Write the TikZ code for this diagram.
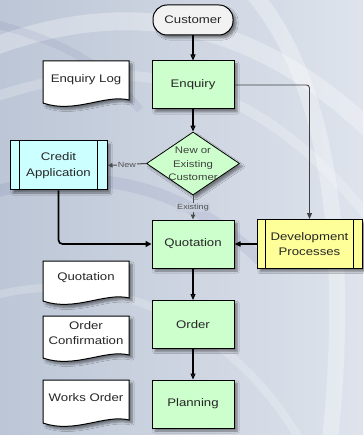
\documentclass[tikz,border=0pt]{standalone}
\usepackage{fontspec}
\setmainfont[FakeStretch=1.2]{Liberation Sans}
\usetikzlibrary{shapes.geometric,shadows.blur,arrows.meta}
\definecolor{bgA}{RGB}{188,198,214}
\definecolor{bgB}{RGB}{222,227,236}
\definecolor{bgmid}{RGB}{200,208,222}
\definecolor{procgreen}{RGB}{204,255,204}
\definecolor{subcyan}{RGB}{204,255,255}
\definecolor{subyellow}{RGB}{255,255,153}
\definecolor{termgrey}{RGB}{242,242,242}
\definecolor{labgrey}{RGB}{80,80,80}
\tikzset{
  shad/.style={blur shadow={shadow xshift=3pt,shadow yshift=-3pt,shadow blur steps=6,shadow opacity=45}},
  txt/.style={font=\fontsize{11}{15.5}\selectfont, align=center, text=black!85},
  procbox/.style={txt, draw, line width=1pt, fill=procgreen, minimum width=82pt, minimum height=48pt, inner sep=0pt, shad},
  subbox/.style={txt, draw, line width=1pt, inner sep=0pt, minimum height=49pt, shad},
  termbox/.style={txt, draw, line width=1pt, fill=termgrey, minimum width=80pt, minimum height=30pt, rounded corners=14pt, inner sep=0pt, shad},
  docshape/.style={draw, line width=1pt, fill=white, shad},
  doctext/.style={txt, inner sep=0pt},
  decision/.style={diamond, draw, line width=0.8pt, fill=procgreen, minimum width=93pt, minimum height=63pt, inner sep=0pt, shad},
  flow/.style={draw, line width=1.1pt, -{Triangle[length=6pt,width=5pt]}},
  thickflow/.style={draw, line width=1.7pt, rounded corners=4pt, -{Triangle[length=6pt,width=6pt]}},
  greyflow/.style={draw=black!70, line width=1pt, -{Triangle[length=5pt,width=4.5pt]}},
  smalllab/.style={font=\fontsize{7.5}{8}\selectfont, text=labgrey, fill=bgmid, inner sep=0.8pt},
}
\newcommand\docdraw[3]{%
  \path[docshape] (#1,#2) -- (#1+86,#2) -- (#1+86,#2+#3-6)
    .. controls (#1+62,#2+#3-12) and (#1+32,#2+#3+8) .. (#1,#2+#3-3) -- cycle;}
\begin{document}
\begin{tikzpicture}[x=1pt,y=-1pt]
\useasboundingbox (0,0) rectangle (363,435);
% background
\shade[left color=bgA, right color=bgB] (0,0) rectangle (363,435);
\begin{scope}
\clip (0,0) rectangle (363,435);
\draw[white, opacity=0.3, line width=18pt] (-40,60) .. controls (120,-10) and (260,10) .. (400,160);
\draw[white, opacity=0.22, line width=10pt] (-40,110) .. controls (130,40) and (270,70) .. (400,260);
\draw[white, opacity=0.3, line width=16pt] (250,-10) .. controls (330,80) and (350,250) .. (330,440);
\draw[white, opacity=0.2, line width=8pt] (-20,300) .. controls (100,260) and (230,320) .. (300,440);
\draw[black!60!blue, opacity=0.06, line width=12pt] (-30,200) .. controls (80,160) and (180,180) .. (260,260);
\draw[black!60!blue, opacity=0.05, line width=8pt] (-20,20) .. controls (60,40) and (100,60) .. (140,110);
\end{scope}

% documents
\docdraw{43}{61}{45}
\node[doctext] (eqlog) at (86,80) {Enquiry Log};
\docdraw{43}{261}{43}
\node[doctext] (quodoc) at (86,278) {Quotation};
\docdraw{43}{316}{45}
\node[doctext] (ordconf) at (86,333) {Order\\Confirmation};
\docdraw{43}{380}{46}
\node[doctext] (worder) at (86,398) {Works Order};

% main flow nodes
\node[termbox] (cust) at (193,20) {Customer};
\node[procbox] (enq) at (193,85) {Enquiry};
\node[decision] (dia) at (193,163.5) {};
\node[txt, font=\fontsize{9.5}{13.5}\selectfont, text=black!75] (diatext) at (193,164) {New or\\Existing\\Customer};
\node[subbox, fill=subcyan, minimum width=97pt] (ca) at (58.5,165.5) {Credit\\Application};
\node[procbox] (quo) at (193,244) {Quotation};
\node[subbox, fill=subyellow, minimum width=105pt] (dev) at (309.5,244) {Development\\Processes};
\node[procbox] (ord) at (193,324.5) {Order};
\node[procbox] (plan) at (193,404) {Planning};

% predefined-process side lines
\draw[line width=1pt] ([xshift=10pt]ca.north west) -- ([xshift=10pt]ca.south west);
\draw[line width=1pt] ([xshift=-10pt]ca.north east) -- ([xshift=-10pt]ca.south east);
\draw[line width=1pt] ([xshift=9pt]dev.north west) -- ([xshift=9pt]dev.south west);
\draw[line width=1pt] ([xshift=-9pt]dev.north east) -- ([xshift=-9pt]dev.south east);

% connectors
\path[flow] (cust) -- (enq);
\path[flow] (enq) -- (dia);
\path[greyflow] (dia.west) -- node[smalllab] {New} (ca.east);
\path[greyflow] (dia.south) -- node[smalllab] {Existing} (quo.north);
\path[draw=black!75, line width=0.9pt, rounded corners=3pt, -{Triangle[length=6pt,width=5pt]}] (enq.east) -| (dev.north);
\path[thickflow] (ca.south) |- (quo.west);
\path[flow, line width=1.5pt] (dev.west) -- (quo.east);
\path[flow] (quo) -- (ord);
\path[flow] (ord) -- (plan);
\end{tikzpicture}
\end{document}
